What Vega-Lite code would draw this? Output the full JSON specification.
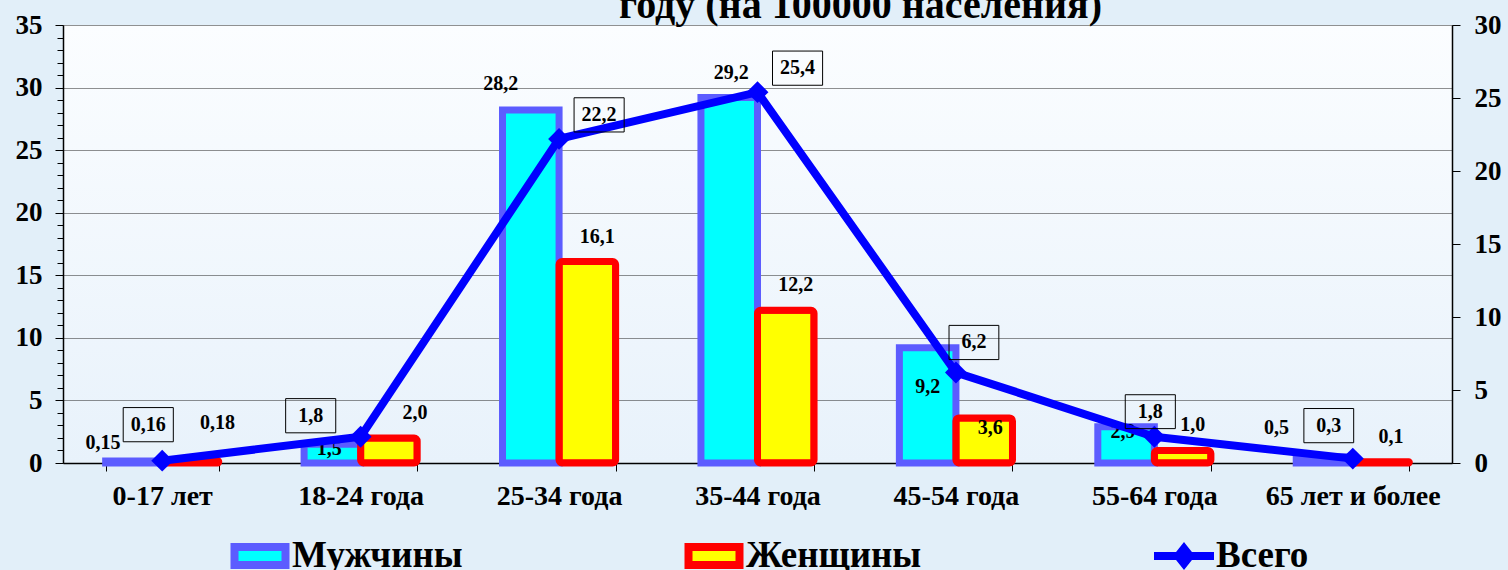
{
  "$schema": "https://vega.github.io/schema/vega-lite/v6.json",
  "width": 1389,
  "height": 438,
  "autosize": {"type": "none"},
  "padding": {"left": 63, "top": 25, "right": 56, "bottom": 107},
  "background": "#e2eff9",
  "title": {
    "text": "году (на 100000 населения)",
    "font": "Liberation Serif",
    "fontSize": 40,
    "fontWeight": "bold",
    "color": "#000000",
    "anchor": "middle",
    "dx": 103,
    "offset": -15
  },
  "data": {
    "values": [
      {"age": "0-17 лет", "series": "Мужчины", "value": 0.15},
      {"age": "0-17 лет", "series": "Женщины", "value": 0.18},
      {"age": "0-17 лет", "series": "Всего", "value": 0.16},
      {"age": "18-24 года", "series": "Мужчины", "value": 1.5},
      {"age": "18-24 года", "series": "Женщины", "value": 2.0},
      {"age": "18-24 года", "series": "Всего", "value": 1.8},
      {"age": "25-34 года", "series": "Мужчины", "value": 28.2},
      {"age": "25-34 года", "series": "Женщины", "value": 16.1},
      {"age": "25-34 года", "series": "Всего", "value": 22.2},
      {"age": "35-44 года", "series": "Мужчины", "value": 29.2},
      {"age": "35-44 года", "series": "Женщины", "value": 12.2},
      {"age": "35-44 года", "series": "Всего", "value": 25.4},
      {"age": "45-54 года", "series": "Мужчины", "value": 9.2},
      {"age": "45-54 года", "series": "Женщины", "value": 3.6},
      {"age": "45-54 года", "series": "Всего", "value": 6.2},
      {"age": "55-64 года", "series": "Мужчины", "value": 2.9},
      {"age": "55-64 года", "series": "Женщины", "value": 1.0},
      {"age": "55-64 года", "series": "Всего", "value": 1.8},
      {"age": "65 лет и более", "series": "Мужчины", "value": 0.5},
      {"age": "65 лет и более", "series": "Женщины", "value": 0.1},
      {"age": "65 лет и более", "series": "Всего", "value": 0.3}
    ]
  },
  "encoding": {
    "x": {
      "field": "age",
      "type": "nominal",
      "sort": ["0-17 лет", "18-24 года", "25-34 года", "35-44 года", "45-54 года", "55-64 года", "65 лет и более"],
      "scale": {"paddingInner": 0.43, "paddingOuter": 0.215},
      "axis": {
        "title": null,
        "labelAngle": 0,
        "labelFont": "Liberation Serif",
        "labelFontSize": 28,
        "labelFontWeight": "bold",
        "labelColor": "#000000",
        "labelPadding": 11,
        "tickBand": "extent",
        "tickSize": 8,
        "tickColor": "#000000",
        "domainColor": "#000000",
        "domainWidth": 1.5,
        "grid": false,
        "labelLimit": 300
      }
    }
  },
  "layer": [
    {
      "encoding": {
        "xOffset": {"field": "series", "type": "nominal", "scale": {"domain": ["Мужчины", "Женщины"], "paddingInner": 0, "paddingOuter": 0}},
        "y": {
          "field": "value",
          "type": "quantitative",
          "scale": {"domain": [0, 35], "nice": false},
          "axis": {
            "title": null,
            "orient": "left",
            "values": [0,1,2,3,4,5,6,7,8,9,10,11,12,13,14,15,16,17,18,19,20,21,22,23,24,25,26,27,28,29,30,31,32,33,34,35],
            "labelExpr": "datum.value % 5 === 0 ? datum.label : ''",
            "labelFont": "Liberation Serif",
            "labelFontSize": 27,
            "labelFontWeight": "bold",
            "labelColor": "#000000",
            "labelPadding": 13,
            "tickSize": {"condition": {"test": "datum.value % 5 === 0", "value": 8}, "value": 6},
            "tickColor": "#000000",
            "domainColor": "#000000",
            "domainWidth": 1.5,
            "grid": true,
            "gridColor": "#222222",
            "gridDash": [1, 1],
            "gridWidth": 1,
            "gridOpacity": {"condition": {"test": "datum.value % 5 === 0", "value": 1}, "value": 0}
          }
        },
        "fill": {
          "field": "series",
          "type": "nominal",
          "scale": {"domain": ["Мужчины", "Женщины"], "range": ["#00ffff", "#ffff00"]},
          "legend": {
            "orient": "none",
            "legendX": 163,
            "legendY": 497,
            "direction": "horizontal",
            "title": null,
            "gridAlign": "all",
            "columnPadding": 204,
            "labelFont": "Liberation Serif",
            "labelFontSize": 37,
            "labelFontWeight": "bold",
            "labelColor": "#000000",
            "labelOffset": -2,
            "labelLimit": 400,
            "symbolType": "M -0.85 -0.3 L 0.85 -0.3 L 0.85 0.3 L -0.85 0.3 Z",
            "symbolSize": 3600,
            "symbolStrokeWidth": 8,
            "symbolOpacity": 1,
            "padding": 0
          }
        },
        "stroke": {
          "field": "series",
          "type": "nominal",
          "scale": {"domain": ["Мужчины", "Женщины"], "range": ["#5c5cff", "#ff0000"]},
          "legend": {
            "orient": "none",
            "legendX": 163,
            "legendY": 497,
            "direction": "horizontal",
            "title": null,
            "gridAlign": "all",
            "columnPadding": 204,
            "labelFont": "Liberation Serif",
            "labelFontSize": 37,
            "labelFontWeight": "bold",
            "labelColor": "#000000",
            "labelOffset": -2,
            "labelLimit": 400,
            "symbolType": "M -0.85 -0.3 L 0.85 -0.3 L 0.85 0.3 L -0.85 0.3 Z",
            "symbolSize": 3600,
            "symbolStrokeWidth": 8,
            "symbolOpacity": 1,
            "padding": 0
          }
        }
      },
      "layer": [
        {
          "transform": [{"filter": {"field": "series", "equal": "Мужчины"}}],
          "mark": {"type": "bar", "strokeWidth": 7}
        },
        {
          "transform": [{"filter": {"field": "series", "equal": "Женщины"}}],
          "mark": {"type": "bar", "strokeWidth": 7, "cornerRadius": 3}
        },
        {
          "transform": [{"filter": {"and": [{"field": "series", "equal": "Мужчины"}, {"field": "age", "oneOf": ["0-17 лет"]}]}}],
          "mark": {"type": "text", "font": "Liberation Serif", "fontSize": 20, "fontWeight": "bold", "dx": -31, "dy": -18},
          "encoding": {"text": {"field": "value", "type": "quantitative", "format": ".2f"}, "fill": {"value": "#000000"}, "stroke": {"value": null}}
        },
        {
          "transform": [{"filter": {"and": [{"field": "series", "equal": "Мужчины"}, {"field": "age", "oneOf": ["25-34 года"]}]}}],
          "mark": {"type": "text", "font": "Liberation Serif", "fontSize": 20, "fontWeight": "bold", "dx": -30, "dy": -26},
          "encoding": {"text": {"field": "value", "type": "quantitative", "format": ".1f"}, "fill": {"value": "#000000"}, "stroke": {"value": null}}
        },
        {
          "transform": [{"filter": {"and": [{"field": "series", "equal": "Мужчины"}, {"field": "age", "oneOf": ["35-44 года"]}]}}],
          "mark": {"type": "text", "font": "Liberation Serif", "fontSize": 20, "fontWeight": "bold", "dx": 2, "dy": -25},
          "encoding": {"text": {"field": "value", "type": "quantitative", "format": ".1f"}, "fill": {"value": "#000000"}, "stroke": {"value": null}}
        },
        {
          "transform": [{"filter": {"and": [{"field": "series", "equal": "Мужчины"}, {"field": "age", "oneOf": ["18-24 года", "55-64 года"]}]}}],
          "mark": {"type": "text", "font": "Liberation Serif", "fontSize": 20, "fontWeight": "bold", "dx": -3, "dy": 5},
          "encoding": {"text": {"field": "value", "type": "quantitative", "format": ".1f"}, "fill": {"value": "#000000"}, "stroke": {"value": null}}
        },
        {
          "transform": [{"filter": {"and": [{"field": "series", "equal": "Мужчины"}, {"field": "age", "oneOf": ["45-54 года"]}]}}],
          "mark": {"type": "text", "font": "Liberation Serif", "fontSize": 20, "fontWeight": "bold", "dx": 0, "dy": 39},
          "encoding": {"text": {"field": "value", "type": "quantitative", "format": ".1f"}, "fill": {"value": "#000000"}, "stroke": {"value": null}}
        },
        {
          "transform": [{"filter": {"and": [{"field": "series", "equal": "Мужчины"}, {"field": "age", "oneOf": ["65 лет и более"]}]}}],
          "mark": {"type": "text", "font": "Liberation Serif", "fontSize": 20, "fontWeight": "bold", "dx": -48, "dy": -29},
          "encoding": {"text": {"field": "value", "type": "quantitative", "format": ".1f"}, "fill": {"value": "#000000"}, "stroke": {"value": null}}
        },
        {
          "transform": [{"filter": {"and": [{"field": "series", "equal": "Женщины"}, {"field": "age", "oneOf": ["0-17 лет"]}]}}],
          "mark": {"type": "text", "font": "Liberation Serif", "fontSize": 20, "fontWeight": "bold", "dx": 27, "dy": -38},
          "encoding": {"text": {"field": "value", "type": "quantitative", "format": ".2f"}, "fill": {"value": "#000000"}, "stroke": {"value": null}}
        },
        {
          "transform": [{"filter": {"and": [{"field": "series", "equal": "Женщины"}, {"field": "age", "oneOf": ["18-24 года"]}]}}],
          "mark": {"type": "text", "font": "Liberation Serif", "fontSize": 20, "fontWeight": "bold", "dx": 26, "dy": -25},
          "encoding": {"text": {"field": "value", "type": "quantitative", "format": ".1f"}, "fill": {"value": "#000000"}, "stroke": {"value": null}}
        },
        {
          "transform": [{"filter": {"and": [{"field": "series", "equal": "Женщины"}, {"field": "age", "oneOf": ["25-34 года", "35-44 года", "55-64 года", "65 лет и более"]}]}}],
          "mark": {"type": "text", "font": "Liberation Serif", "fontSize": 20, "fontWeight": "bold", "dx": 10, "dy": -25},
          "encoding": {"text": {"field": "value", "type": "quantitative", "format": ".1f"}, "fill": {"value": "#000000"}, "stroke": {"value": null}}
        },
        {
          "transform": [{"filter": {"and": [{"field": "series", "equal": "Женщины"}, {"field": "age", "oneOf": ["45-54 года"]}]}}],
          "mark": {"type": "text", "font": "Liberation Serif", "fontSize": 20, "fontWeight": "bold", "dx": 6, "dy": 10},
          "encoding": {"text": {"field": "value", "type": "quantitative", "format": ".1f"}, "fill": {"value": "#000000"}, "stroke": {"value": null}}
        }
      ]
    },
    {
      "transform": [{"filter": {"field": "series", "equal": "Всего"}}],
      "encoding": {
        "y": {
          "field": "value",
          "type": "quantitative",
          "scale": {"domain": [0, 30], "nice": false},
          "axis": {
            "title": null,
            "orient": "right",
            "values": [0, 5, 10, 15, 20, 25, 30],
            "labelFont": "Liberation Serif",
            "labelFontSize": 27,
            "labelFontWeight": "bold",
            "labelColor": "#000000",
            "labelPadding": 14,
            "tickSize": 8,
            "tickColor": "#000000",
            "domainColor": "#000000",
            "domainWidth": 1.5,
            "grid": false
          }
        }
      },
      "layer": [
        {
          "mark": {"type": "line", "strokeWidth": 8, "point": {"filled": true, "shape": "diamond", "size": 480, "opacity": 1}},
          "encoding": {
            "color": {
              "field": "series",
              "type": "nominal",
              "scale": {"domain": ["Всего"], "range": ["#0000ff"]},
              "legend": {
                "orient": "none",
                "legendX": 1087,
                "legendY": 497,
                "direction": "horizontal",
                "title": null,
                "labelFont": "Liberation Serif",
                "labelFontSize": 37,
                "labelFontWeight": "bold",
                "labelColor": "#000000",
                "labelOffset": -2,
                "labelLimit": 400,
                "symbolType": "M -1 0 L 1 0 M 0 -0.25 L 0.2 0 L 0 0.25 L -0.2 0 Z M 0 -0.1 L 0.08 0 L 0 0.1 L -0.08 0 Z",
                "symbolSize": 3600,
                "symbolStrokeWidth": 8,
                "symbolFillColor": "#0000ff",
                "symbolOpacity": 1,
                "padding": 0
              }
            }
          }
        },
        {
          "transform": [{"filter": {"field": "age", "oneOf": ["0-17 лет"]}}],
          "mark": {"type": "point", "shape": "M -1.3 -1.77 L 0.37 -1.77 L 0.37 -0.63 L -1.3 -0.63 Z", "size": 3600, "filled": false, "stroke": "#000000", "strokeWidth": 1, "opacity": 1},
          "encoding": {}
        },
        {
          "transform": [{"filter": {"field": "age", "oneOf": ["0-17 лет"]}}],
          "mark": {"type": "text", "font": "Liberation Serif", "fontSize": 20, "fontWeight": "bold", "color": "#000000", "dx": -14, "dy": -36},
          "encoding": {"text": {"field": "value", "type": "quantitative", "format": ".2f"}}
        },
        {
          "transform": [{"filter": {"field": "age", "oneOf": ["18-24 года"]}}],
          "mark": {"type": "point", "shape": "M -2.5 -1.27 L -0.83 -1.27 L -0.83 -0.13 L -2.5 -0.13 Z", "size": 3600, "filled": false, "stroke": "#000000", "strokeWidth": 1, "opacity": 1},
          "encoding": {}
        },
        {
          "transform": [{"filter": {"field": "age", "oneOf": ["18-24 года"]}}],
          "mark": {"type": "text", "font": "Liberation Serif", "fontSize": 20, "fontWeight": "bold", "color": "#000000", "dx": -50, "dy": -21},
          "encoding": {"text": {"field": "value", "type": "quantitative", "format": ".1f"}}
        },
        {
          "transform": [{"filter": {"field": "age", "oneOf": ["25-34 года", "35-44 года"]}}],
          "mark": {"type": "point", "shape": "M 0.5 -1.37 L 2.17 -1.37 L 2.17 -0.23 L 0.5 -0.23 Z", "size": 3600, "filled": false, "stroke": "#000000", "strokeWidth": 1, "opacity": 1},
          "encoding": {}
        },
        {
          "transform": [{"filter": {"field": "age", "oneOf": ["25-34 года", "35-44 года"]}}],
          "mark": {"type": "text", "font": "Liberation Serif", "fontSize": 20, "fontWeight": "bold", "color": "#000000", "dx": 40, "dy": -24},
          "encoding": {"text": {"field": "value", "type": "quantitative", "format": ".1f"}}
        },
        {
          "transform": [{"filter": {"field": "age", "oneOf": ["45-54 года"]}}],
          "mark": {"type": "point", "shape": "M -0.23 -1.57 L 1.43 -1.57 L 1.43 -0.43 L -0.23 -0.43 Z", "size": 3600, "filled": false, "stroke": "#000000", "strokeWidth": 1, "opacity": 1},
          "encoding": {}
        },
        {
          "transform": [{"filter": {"field": "age", "oneOf": ["45-54 года"]}}],
          "mark": {"type": "text", "font": "Liberation Serif", "fontSize": 20, "fontWeight": "bold", "color": "#000000", "dx": 18, "dy": -30},
          "encoding": {"text": {"field": "value", "type": "quantitative", "format": ".1f"}}
        },
        {
          "transform": [{"filter": {"field": "age", "oneOf": ["55-64 года"]}}],
          "mark": {"type": "point", "shape": "M -0.97 -1.4 L 0.7 -1.4 L 0.7 -0.27 L -0.97 -0.27 Z", "size": 3600, "filled": false, "stroke": "#000000", "strokeWidth": 1, "opacity": 1},
          "encoding": {}
        },
        {
          "transform": [{"filter": {"field": "age", "oneOf": ["55-64 года"]}}],
          "mark": {"type": "text", "font": "Liberation Serif", "fontSize": 20, "fontWeight": "bold", "color": "#000000", "dx": -4, "dy": -25},
          "encoding": {"text": {"field": "value", "type": "quantitative", "format": ".1f"}}
        },
        {
          "transform": [{"filter": {"field": "age", "oneOf": ["65 лет и более"]}}],
          "mark": {"type": "point", "shape": "M -1.63 -1.67 L 0.03 -1.67 L 0.03 -0.53 L -1.63 -0.53 Z", "size": 3600, "filled": false, "stroke": "#000000", "strokeWidth": 1, "opacity": 1},
          "encoding": {}
        },
        {
          "transform": [{"filter": {"field": "age", "oneOf": ["65 лет и более"]}}],
          "mark": {"type": "text", "font": "Liberation Serif", "fontSize": 20, "fontWeight": "bold", "color": "#000000", "dx": -24, "dy": -33},
          "encoding": {"text": {"field": "value", "type": "quantitative", "format": ".1f"}}
        }
      ]
    }
  ],
  "resolve": {"scale": {"y": "independent"}},
  "config": {
    "font": "Liberation Serif",
    "locale": {"number": {"decimal": ",", "thousands": " ", "grouping": [3], "currency": ["", ""]}},
    "view": {
      "stroke": null,
      "fill": {"gradient": "linear", "x1": 0, "y1": 0, "x2": 0, "y2": 1, "stops": [{"offset": 0, "color": "#fbfdff"}, {"offset": 1, "color": "#e8f2fb"}]}
    }
  }
}
